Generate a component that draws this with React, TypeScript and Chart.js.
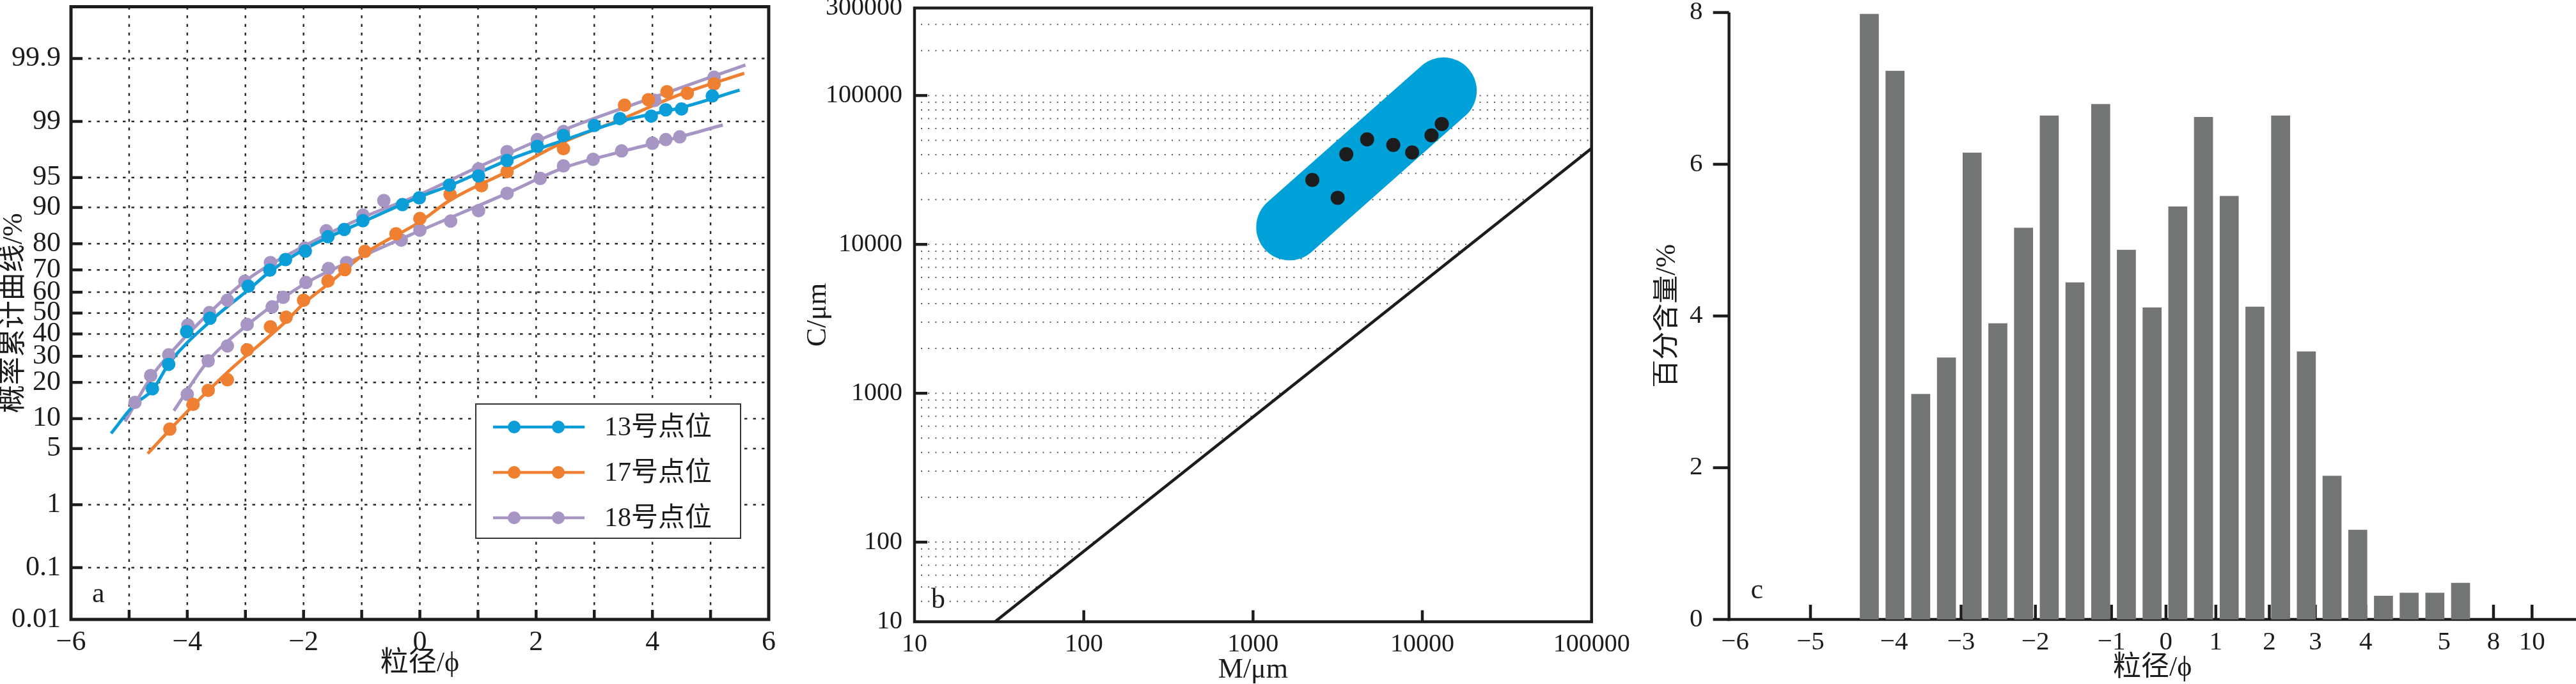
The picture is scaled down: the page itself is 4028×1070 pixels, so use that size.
import React, { useEffect, useRef } from 'react';
import { Chart, registerables } from 'chart.js';

Chart.register(...registerables);

const SERIF = '"Liberation Serif", "Noto Sans CJK SC", serif';
const INK = '#1c1c1c';
const BLUE = '#0A9DD8';
const ORANGE = '#EF7F31';
const PURPLE = '#A795C4';
const BAR_GREY = '#737574';
const BLOB_BLUE = '#00A0D8';

// ================= Panel a : cumulative probability curves =================
const A_X_MIN = -6;
const A_X_MAX = 6;
const A_P_MIN = 0.01;
const A_P_MAX = 99.99;
const A_Y_TICKS = [0.01, 0.1, 1, 5, 10, 20, 30, 40, 50, 60, 70, 80, 90, 95, 99, 99.9];

const S13_NAME = '13号点位';
const S13_PHI = [-4.6, -4.32, -4.01, -3.61, -2.95, -2.58, -2.31, -1.97, -1.58, -1.3, -0.98, -0.3, -0.01, 0.51, 1.01, 1.5, 2.02, 2.47, 3.0, 3.44, 3.98, 4.23, 4.5, 5.03];
const S13_PCT = [17.9, 26.7, 41.1, 47.5, 62.8, 69.9, 74.2, 77.4, 82.3, 84.5, 86.9, 90.6, 91.9, 94.0, 95.2, 96.8, 97.85, 98.44, 98.86, 99.09, 99.16, 99.32, 99.34, 99.58];
const S13_FIT_PHI = [-5.31, -4.91, -4.6, -4.3, -3.59, -2.95, -2.58, -1.98, -0.98, 0.0, 0.51, 1.5, 2.47, 3.44, 4.5, 5.5];
const S13_FIT_PCT = [7.2, 13.3, 17.5, 27.5, 46.4, 61.1, 69.2, 78.1, 86.6, 92.1, 93.9, 96.8, 98.2, 99.0, 99.37, 99.66];

const S17_NAME = '17号点位';
const S17_PHI = [-4.3, -3.9, -3.64, -3.31, -2.97, -2.57, -2.3, -2.0, -1.58, -1.29, -0.945, -0.41, 0.0, 0.52, 1.06, 1.5, 2.47, 3.52, 3.93, 4.25, 4.6, 5.06];
const S17_PCT = [7.95, 13.4, 17.4, 20.9, 32.8, 43.4, 48.0, 56.2, 65.2, 70.1, 77.3, 83.2, 87.45, 92.5, 93.9, 95.7, 97.7, 99.42, 99.52, 99.64, 99.62, 99.73];
const S17_FIT_PHI = [-4.68, -4.08, -3.29, -2.31, -2.0, -1.58, -0.945, 0.0, 0.51, 1.5, 2.47, 3.44, 4.5, 5.58];
const S17_FIT_PCT = [4.4, 10.5, 24.0, 45.8, 54.6, 63.7, 76.5, 86.6, 91.4, 95.7, 98.1, 99.05, 99.61, 99.82];

const S18_NAME = '18号点位';
const S18_PHI = [-4.9, -4.63, -4.32, -3.99, -3.62, -3.31, -3.01, -2.57, -1.98, -1.61, -0.98, -0.62, 1.01, 1.5, 2.02, 2.47, 4.04, 5.06];
const S18_PCT = [13.9, 22.4, 30.6, 44.2, 50.2, 56.2, 65.0, 73.0, 78.5, 84.1, 88.3, 91.4, 96.0, 97.5, 98.24, 98.62, 99.51, 99.79];
const S18_FIT_PHI = [-5.07, -4.62, -4.27, -3.78, -3.0, -1.98, -0.98, 0.0, 1.01, 2.47, 3.93, 5.6];
const S18_FIT_PCT = [9.4, 21.9, 31.9, 45.8, 65.2, 79.3, 87.7, 92.5, 96.2, 98.69, 99.53, 99.87];

const S18B_PHI = [-4.0, -3.64, -3.31, -2.97, -2.54, -2.35, -1.96, -1.57, -1.26, -0.32, 0.0, 0.53, 1.01, 1.5, 2.07, 2.47, 2.98, 3.47, 4.0, 4.23, 4.47];
const S18B_PCT = [16.2, 28.1, 34.5, 44.5, 53.0, 57.6, 64.5, 70.6, 73.0, 81.2, 84.3, 86.8, 89.3, 92.7, 94.9, 96.3, 96.9, 97.55, 98.04, 98.24, 98.38];
const S18B_FIT_PHI = [-4.23, -3.64, -2.97, -1.96, -0.98, 0.0, 1.5, 2.47, 3.47, 4.47, 5.21];
const S18B_FIT_PCT = [11.8, 28.1, 44.2, 64.2, 75.6, 84.1, 92.7, 96.1, 97.5, 98.38, 98.88];

// ================= Panel b : C-M diagram =================
const B_X_TICKS = [10, 100, 1000, 10000, 100000];
const B_X_MARKS = [100, 1000, 10000];
const B_Y_TICK_VALUES = [29.2, 100, 1000, 10000, 100000, 387000];
const B_Y_TICK_LABELS = ['10', '100', '1000', '10000', '100000', '300000'];
const B_Y_MARKS = [100, 1000, 10000, 100000];
const B_M = [2239, 3162, 3556, 4720, 6735, 8710, 11330, 13030];
const B_C = [27100, 20560, 40280, 50700, 46560, 41400, 53960, 64400];
const B_BAND_M = [1641, 13340];
const B_BAND_C = [13060, 107700];
const B_LINE_M = [29.9, 100000];
const B_LINE_C = [29.2, 44150];

// ================= Panel c : grain-size histogram =================
const C_VALUES = [7.98, 7.23, 2.97, 3.45, 6.15, 3.9, 5.16, 6.64, 4.44, 6.79, 4.87, 4.11, 5.44, 6.62, 5.58, 4.12, 6.64, 3.53, 1.89, 1.18, 0.31, 0.35, 0.35, 0.48];
const C_TICK_POS = [-5.22, -2.29, 0.96, 3.57, 6.46, 9.42, 11.54, 13.48, 15.56, 17.35, 19.31, 22.36, 24.28, 25.78];
const C_TICK_LABELS = ['\u22126', '\u22125', '\u22124', '\u22123', '\u22122', '\u22121', '0', '1', '2', '3', '4', '5', '8', '10'];
const C_TICK_MARK = [false, true, true, true, true, true, true, true, true, true, true, false, true, true];
const C_Y_MAX = 8;

// inverse standard normal CDF (Acklam), p in percent
function probit(pct: number): number {
  const p = pct / 100;
  const a = [-3.969683028665376e1, 2.209460984245205e2, -2.759285104469687e2, 1.38357751867269e2, -3.066479806614716e1, 2.506628277459239];
  const b = [-5.447609879822406e1, 1.615858368580409e2, -1.556989798598866e2, 6.680131188771972e1, -1.328068155288572e1];
  const c = [-7.784894002430293e-3, -3.223964580411365e-1, -2.400758277161838, -2.549732539343734, 4.374664141464968, 2.938163982698783];
  const d = [7.784695709041462e-3, 3.224671290700398e-1, 2.445134137142996, 3.754408661907416];
  const plow = 0.02425;
  if (p < plow) {
    const q = Math.sqrt(-2 * Math.log(p));
    return (((((c[0] * q + c[1]) * q + c[2]) * q + c[3]) * q + c[4]) * q + c[5]) / ((((d[0] * q + d[1]) * q + d[2]) * q + d[3]) * q + 1);
  }
  if (p <= 1 - plow) {
    const q = p - 0.5;
    const r = q * q;
    return ((((((a[0] * r + a[1]) * r + a[2]) * r + a[3]) * r + a[4]) * r + a[5]) * q) / (((((b[0] * r + b[1]) * r + b[2]) * r + b[3]) * r + b[4]) * r + 1);
  }
  const q = Math.sqrt(-2 * Math.log(1 - p));
  return -(((((c[0] * q + c[1]) * q + c[2]) * q + c[3]) * q + c[4]) * q + c[5]) / ((((d[0] * q + d[1]) * q + d[2]) * q + d[3]) * q + 1);
}

const signed = (v: number) => (v < 0 ? '\u2212' + Math.abs(v) : String(v));
const font = (size: number) => `${size}px ${SERIF}`;

function seg(ctx: any, x1: number, y1: number, x2: number, y2: number) {
  ctx.beginPath();
  ctx.moveTo(x1, y1);
  ctx.lineTo(x2, y2);
  ctx.stroke();
}

function fixBox(size: number, horizontal: boolean) {
  return (s: any) => {
    if (horizontal) s.height = size;
    else s.width = size;
    s.paddingLeft = 0;
    s.paddingRight = 0;
    s.paddingTop = 0;
    s.paddingBottom = 0;
  };
}

const pts = (xs: number[], ps: number[]) => xs.map((x, i) => ({ x, y: probit(ps[i]) }));

function configA(): any {
  const fit = (xs: number[], ps: number[], color: string, label: string, inLegend: boolean) => ({
    type: 'line', label, inLegend, data: pts(xs, ps), borderColor: color, backgroundColor: color,
    borderWidth: 5, pointRadius: 0, cubicInterpolationMode: 'monotone', order: 2,
  });
  const dots = (xs: number[], ps: number[], color: string) => ({
    type: 'line', data: pts(xs, ps), showLine: false, pointRadius: 10.5, pointBorderWidth: 0,
    pointBackgroundColor: color, borderColor: color, backgroundColor: color, order: 1,
  });
  const plugin = {
    id: 'panelA',
    beforeDatasetsDraw(chart: any) {
      const { ctx, chartArea: ca, scales } = chart;
      const { x, y } = scales;
      ctx.save();
      ctx.beginPath();
      ctx.rect(ca.left, ca.top, ca.right - ca.left, ca.bottom - ca.top);
      ctx.clip();
      ctx.setLineDash([4.5, 9]);
      ctx.lineWidth = 2.5;
      ctx.strokeStyle = '#2a2a2a';
      for (const t of x.ticks) {
        if (t.value <= A_X_MIN || t.value >= A_X_MAX) continue;
        const px = x.getPixelForValue(t.value);
        seg(ctx, px, ca.top, px, ca.bottom);
      }
      for (const t of y.ticks) {
        if (t.value <= y.min + 1e-6) continue;
        const py = y.getPixelForValue(t.value);
        seg(ctx, ca.left, py, ca.right, py);
      }
      ctx.restore();
    },
    afterDatasetsDraw(chart: any) {
      const { ctx, chartArea: ca, scales } = chart;
      const { x, y } = scales;
      ctx.save();
      ctx.strokeStyle = INK;
      ctx.lineWidth = 5;
      ctx.strokeRect(ca.left, ca.top, ca.right - ca.left, ca.bottom - ca.top);
      ctx.lineWidth = 4.5;
      for (const t of x.ticks) {
        if (t.value <= A_X_MIN || t.value >= A_X_MAX) continue;
        const px = x.getPixelForValue(t.value);
        seg(ctx, px, ca.bottom, px, ca.bottom - 15);
      }
      for (const t of y.ticks) {
        if (t.value <= y.min + 1e-6) continue;
        const py = y.getPixelForValue(t.value);
        seg(ctx, ca.left, py, ca.left + 18, py);
      }
      // legend
      const lx = ca.right - 458;
      const ly = ca.bottom - 337;
      ctx.fillStyle = '#ffffff';
      ctx.fillRect(lx, ly, 414, 210);
      ctx.lineWidth = 2;
      ctx.strokeStyle = '#333';
      ctx.strokeRect(lx, ly, 414, 210);
      const items = chart.data.datasets.filter((d: any) => d.inLegend);
      items.forEach((d: any, i: number) => {
        const ry = ly + 36 + i * 71;
        ctx.strokeStyle = d.borderColor;
        ctx.lineWidth = 4.5;
        seg(ctx, lx + 27, ry, lx + 170, ry);
        ctx.fillStyle = d.borderColor;
        for (const mx of [lx + 60, lx + 129]) {
          ctx.beginPath();
          ctx.arc(mx, ry, 10, 0, Math.PI * 2);
          ctx.fill();
        }
        ctx.fillStyle = INK;
        ctx.font = font(42);
        ctx.textAlign = 'left';
        ctx.textBaseline = 'middle';
        ctx.fillText(d.label, lx + 201, ry + 2);
      });
      ctx.fillStyle = INK;
      ctx.font = font(44);
      ctx.textAlign = 'left';
      ctx.textBaseline = 'alphabetic';
      ctx.fillText('a', ca.left + 33, ca.bottom - 27);
      ctx.restore();
    },
  };
  return {
    type: 'line',
    data: {
      datasets: [
        dots(S13_PHI, S13_PCT, BLUE),
        dots(S17_PHI, S17_PCT, ORANGE),
        dots(S18_PHI, S18_PCT, PURPLE),
        dots(S18B_PHI, S18B_PCT, PURPLE),
        fit(S13_FIT_PHI, S13_FIT_PCT, BLUE, S13_NAME, true),
        fit(S17_FIT_PHI, S17_FIT_PCT, ORANGE, S17_NAME, true),
        fit(S18_FIT_PHI, S18_FIT_PCT, PURPLE, S18_NAME, true),
        fit(S18B_FIT_PHI, S18B_FIT_PCT, PURPLE, S18_NAME, false),
      ],
    },
    options: {
      responsive: false, animation: false, devicePixelRatio: 1,
      events: [],
      layout: { padding: { top: 4, right: 33, left: 0, bottom: 0 } },
      plugins: { legend: { display: false }, tooltip: { enabled: false } },
      scales: {
        x: {
          type: 'linear', min: A_X_MIN, max: A_X_MAX,
          grid: { display: false }, border: { display: false },
          ticks: {
            stepSize: 1, autoSkip: false, maxRotation: 0, padding: 6, color: INK,
            font: { family: SERIF, size: 44, lineHeight: 1 },
            callback: (v: number) => (Math.round(v) % 2 === 0 ? signed(Math.round(v)) : ''),
          },
          title: { display: true, text: '粒径/ϕ', color: INK, font: { family: SERIF, size: 44, lineHeight: 1 }, padding: { top: 0, bottom: 10 } },
          afterFit: fixBox(101, true),
        },
        y: {
          type: 'linear', min: probit(A_P_MIN), max: probit(A_P_MAX),
          grid: { display: false }, border: { display: false },
          afterBuildTicks: (s: any) => { s.ticks = A_Y_TICKS.map((p) => ({ value: probit(p) })); },
          ticks: {
            autoSkip: false, padding: 8, color: INK,
            font: { family: SERIF, size: 44, lineHeight: 1 },
            callback: (_v: number, i: number) => String(A_Y_TICKS[i]),
          },
          title: { display: true, text: '概率累计曲线/%', color: INK, font: { family: SERIF, size: 44, lineHeight: 1 }, padding: { top: 0, bottom: 0 } },
          afterFit: fixBox(111, false),
        },
      },
    },
    plugins: [plugin],
  };
}

function configB(): any {
  const plugin = {
    id: 'panelB',
    beforeDatasetsDraw(chart: any) {
      const { ctx, chartArea: ca, scales } = chart;
      const { x, y } = scales;
      const p0x = x.getPixelForValue(B_LINE_M[0]);
      const p1y = y.getPixelForValue(B_LINE_C[1]);
      ctx.save();
      ctx.beginPath();
      ctx.moveTo(ca.left, ca.top);
      ctx.lineTo(ca.right, ca.top);
      ctx.lineTo(ca.right, p1y);
      ctx.lineTo(p0x, ca.bottom);
      ctx.lineTo(ca.left, ca.bottom);
      ctx.closePath();
      ctx.clip();
      ctx.setLineDash([2, 9.2]);
      ctx.lineWidth = 2;
      ctx.strokeStyle = '#5a5a5a';
      for (let dec = 10; dec <= 100000; dec *= 10) {
        for (let k = 1; k <= 9; k++) {
          const v = k * dec;
          if (v < 40 || v > 300000) continue;
          const py = y.getPixelForValue(v);
          if (py < ca.top + 3 || py > ca.bottom - 3) continue;
          seg(ctx, ca.left + 10, py, ca.right, py);
        }
      }
      ctx.restore();
    },
    afterDatasetsDraw(chart: any) {
      const { ctx, chartArea: ca, scales } = chart;
      const { x, y } = scales;
      ctx.save();
      ctx.strokeStyle = INK;
      ctx.lineWidth = 4.5;
      ctx.strokeRect(ca.left, ca.top, ca.right - ca.left, ca.bottom - ca.top);
      for (const v of B_X_MARKS) {
        const px = x.getPixelForValue(v);
        seg(ctx, px, ca.bottom, px, ca.bottom - 18);
      }
      for (const v of B_Y_MARKS) {
        const py = y.getPixelForValue(v);
        seg(ctx, ca.left, py, ca.left + 20, py);
      }
      ctx.fillStyle = INK;
      ctx.font = font(44);
      ctx.textAlign = 'left';
      ctx.textBaseline = 'alphabetic';
      ctx.fillText('b', ca.left + 26, ca.bottom - 22);
      ctx.restore();
    },
  };
  return {
    type: 'line',
    data: {
      datasets: [
        {
          type: 'line', data: B_M.map((m, i) => ({ x: m, y: B_C[i] })), showLine: false,
          pointRadius: 11, pointBorderWidth: 0, pointBackgroundColor: INK, order: 0,
        },
        {
          type: 'line', data: B_LINE_M.map((m, i) => ({ x: m, y: B_LINE_C[i] })),
          borderColor: INK, borderWidth: 4.5, pointRadius: 0, order: 1,
        },
        {
          type: 'line', data: B_BAND_M.map((m, i) => ({ x: m, y: B_BAND_C[i] })),
          borderColor: BLOB_BLUE, borderWidth: 104, borderCapStyle: 'round', pointRadius: 0, order: 2,
        },
      ],
    },
    options: {
      responsive: false, animation: false, devicePixelRatio: 1,
      events: [],
      layout: { padding: { top: 12.5, right: 91.3, left: 0, bottom: 0 } },
      plugins: { legend: { display: false }, tooltip: { enabled: false } },
      scales: {
        x: {
          type: 'logarithmic', min: 10, max: 100000,
          grid: { display: false }, border: { display: false },
          afterBuildTicks: (s: any) => { s.ticks = B_X_TICKS.map((v) => ({ value: v })); },
          ticks: {
            autoSkip: false, maxRotation: 0, padding: 8, color: INK,
            font: { family: SERIF, size: 40, lineHeight: 1 },
            callback: (_v: number, i: number) => String(B_X_TICKS[i]),
          },
          title: { display: true, text: 'M/μm', color: INK, font: { family: SERIF, size: 44, lineHeight: 1 }, padding: { top: 0, bottom: 0 } },
          afterFit: fixBox(97.4, true),
        },
        y: {
          type: 'logarithmic', min: B_Y_TICK_VALUES[0], max: B_Y_TICK_VALUES[B_Y_TICK_VALUES.length - 1],
          grid: { display: false }, border: { display: false },
          afterBuildTicks: (s: any) => { s.ticks = B_Y_TICK_VALUES.map((v) => ({ value: v })); },
          ticks: {
            autoSkip: false, padding: 11, color: INK,
            font: { family: SERIF, size: 40, lineHeight: 1 },
            callback: (_v: number, i: number) => B_Y_TICK_LABELS[i],
          },
          title: { display: true, text: 'C/μm', color: INK, font: { family: SERIF, size: 44, lineHeight: 1 }, padding: { top: 17, bottom: 0 } },
          afterFit: fixBox(190, false),
        },
      },
    },
    plugins: [plugin],
  };
}

function configC(): any {
  const plugin = {
    id: 'panelC',
    beforeDatasetsDraw(chart: any) {
      const { ctx, chartArea: ca, scales } = chart;
      const { x, y } = scales;
      ctx.save();
      ctx.strokeStyle = INK;
      ctx.lineWidth = 4.5;
      seg(ctx, ca.left, ca.top, ca.left, ca.bottom + 2.25);
      seg(ctx, ca.left - 2.25, ca.bottom, ca.right, ca.bottom);
      C_TICK_POS.forEach((v, i) => {
        if (!C_TICK_MARK[i]) return;
        const px = x.getPixelForValue(v);
        seg(ctx, px, ca.bottom, px, ca.bottom - 23);
      });
      for (const t of y.ticks) {
        const py = y.getPixelForValue(t.value);
        seg(ctx, ca.left - 25, py, ca.left, py);
      }
      ctx.restore();
    },
    afterDatasetsDraw(chart: any) {
      const { ctx, chartArea: ca } = chart;
      ctx.save();
      ctx.fillStyle = INK;
      ctx.font = font(44);
      ctx.textAlign = 'left';
      ctx.textBaseline = 'alphabetic';
      ctx.fillText('c', ca.left + 34, ca.bottom - 33);
      ctx.restore();
    },
  };
  return {
    type: 'bar',
    data: {
      datasets: [
        {
          data: C_VALUES.map((v, i) => ({ x: i, y: v })),
          backgroundColor: BAR_GREY, borderWidth: 0, barThickness: 29,
        },
      ],
    },
    options: {
      responsive: false, animation: false, devicePixelRatio: 1,
      events: [],
      layout: { padding: { top: 19.6, right: 0, left: 0, bottom: 0 } },
      plugins: { legend: { display: false }, tooltip: { enabled: false } },
      scales: {
        x: {
          type: 'linear', min: -5.458, max: 27.49, offset: false,
          grid: { display: false }, border: { display: false },
          afterBuildTicks: (s: any) => { s.ticks = C_TICK_POS.map((v) => ({ value: v })); },
          ticks: {
            autoSkip: false, maxRotation: 0, padding: 8, color: INK,
            font: { family: SERIF, size: 41, lineHeight: 1 },
            callback: (_v: number, i: number) => C_TICK_LABELS[i],
          },
          title: { display: true, text: '粒径/ϕ', color: INK, font: { family: SERIF, size: 44, lineHeight: 1 }, padding: { top: 0, bottom: 3 } },
          afterFit: fixBox(101, true),
        },
        y: {
          type: 'linear', min: 0, max: C_Y_MAX,
          grid: { display: false }, border: { display: false },
          ticks: { stepSize: 2, autoSkip: false, padding: 33, color: INK, font: { family: SERIF, size: 41, lineHeight: 1 } },
          title: { display: true, text: '百分含量/%', color: INK, font: { family: SERIF, size: 44, lineHeight: 1 }, padding: { top: 0, bottom: 0 } },
          afterFit: fixBox(118.6, false),
        },
      },
    },
    plugins: [plugin],
  };
}

export default function App() {
  const refA = useRef<HTMLCanvasElement>(null);
  const refB = useRef<HTMLCanvasElement>(null);
  const refC = useRef<HTMLCanvasElement>(null);

  useEffect(() => {
    const charts = [
      new Chart(refA.current as HTMLCanvasElement, configA()),
      new Chart(refB.current as HTMLCanvasElement, configB()),
      new Chart(refC.current as HTMLCanvasElement, configC()),
    ];
    return () => charts.forEach((c) => c.destroy());
  }, []);

  const cv = (left: number, width: number) => ({ position: 'absolute' as const, left, top: 0, width, height: 1070 });

  return (
    <div style={{ position: 'absolute', left: 0, top: 0, width: 4028, height: 1070, background: '#ffffff', overflow: 'hidden' }}>
      <canvas ref={refA} width={1235} height={1070} style={cv(0, 1235)} />
      <canvas ref={refB} width={1340} height={1070} style={cv(1240, 1340)} />
      <canvas ref={refC} width={1443} height={1070} style={cv(2585, 1443)} />
    </div>
  );
}
